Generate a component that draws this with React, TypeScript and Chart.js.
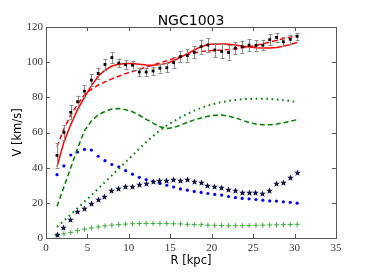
import React, { useEffect, useRef } from "react";
import { Chart, registerables } from "chart.js";

Chart.register(...registerables);

// Radii of the sampled points (kpc)
const radii = [1.33, 2.16, 2.99, 3.81, 4.64, 5.47, 6.30, 7.12, 7.95, 8.78, 9.61, 10.44, 11.26, 12.09, 12.92, 13.75, 14.58, 15.40, 16.23, 17.06, 17.89, 18.72, 19.54, 20.37, 21.20, 22.03, 22.86, 23.68, 24.51, 25.34, 26.17, 27.00, 27.82, 28.65, 29.48, 30.31];

// Observed rotation velocities and errors
const vObs = [47, 60, 71.5, 77.5, 83.5, 89.8, 93.6, 98.7, 102.6, 99.5, 98.5, 98.3, 94.4, 94.4, 95, 96.6, 96.8, 99.7, 103.2, 103.8, 105.7, 108.8, 109.8, 106.9, 106.1, 105.5, 108, 108.8, 109.7, 109.5, 109.7, 112.8, 114.1, 111.6, 113, 114.7];
const vErr = [7, 4, 4, 3.5, 3.5, 3.5, 3, 3, 3, 2.5, 2.5, 2.5, 2.5, 2.5, 2.5, 2.5, 2.5, 3, 3, 3.5, 3.5, 4, 4, 4, 4, 4, 3.5, 3.5, 3.5, 3, 3, 3, 2.5, 2.5, 2.5, 2];

// Model curves
const vModelSolid = [40.5, 54.5, 64.5, 73, 80, 86.5, 92, 95.5, 97.8, 98.8, 99.2, 99.2, 98.8, 98.4, 98.3, 98.6, 99.3, 100.8, 102.7, 104.8, 106.9, 108.8, 110, 110.4, 110.4, 110.2, 109.7, 109.1, 108.6, 108.2, 108, 108, 108.3, 109, 110, 111.2];
const vModelDashed = [52, 62, 70, 76, 81.5, 84.5, 87, 88.8, 90.5, 92, 93.5, 94.7, 96, 97.2, 98.4, 99.6, 100.8, 102, 103.2, 104.3, 105.2, 106, 106.5, 106.7, 106.9, 107.2, 107.6, 108.2, 108.8, 109.5, 110.4, 111.4, 112.4, 113.3, 114.2, 115.2];
const vGreenDashed = [18, 29, 40, 51, 61, 66.5, 70, 72, 73.3, 73.6, 73, 71.8, 69.8, 67.5, 65.3, 63.3, 62.3, 62.8, 64.2, 65.8, 67.2, 68.3, 69.2, 69.8, 69.9, 69.3, 68.3, 67, 65.7, 64.8, 64.4, 64.4, 64.8, 65.5, 66.4, 67.3];
const vGreenDotted = [6.3, 9.8, 13.4, 17, 20.6, 24.3, 28, 31.8, 35.6, 39.4, 43.2, 47, 50.8, 54.5, 58, 61.2, 64, 66.4, 68.6, 70.6, 72.4, 74, 75.3, 76.4, 77.3, 78, 78.5, 78.9, 79.1, 79.2, 79.2, 79.1, 78.8, 78.4, 77.9, 77.3];

// Component points
const vBlue = [36, 41, 47.2, 48.9, 50.4, 50, 46.5, 44, 41.8, 40.5, 38.3, 36.3, 34.5, 33.2, 32.2, 31, 30, 29, 27.9, 27.2, 26.5, 25.9, 25.3, 24.8, 24.4, 23.6, 23, 22.5, 22.3, 21.9, 21.5, 21.1, 21, 20.6, 20.3, 19.8];
const vStars = [1.9, 5.9, 10.7, 14.9, 17, 19.4, 21.7, 23.6, 27, 28.4, 29.1, 29.1, 30.5, 31.2, 32, 32.6, 32.8, 33, 32.8, 33.5, 32.4, 31.6, 30.1, 29.3, 29, 27.8, 26.9, 25.7, 26.1, 25.9, 25.3, 26.9, 30.9, 31.6, 34.5, 37.5];
const vPlus = [1.5, 2.3, 3.2, 4.2, 5, 5.7, 6.3, 6.9, 7.3, 7.6, 7.9, 8.1, 8.2, 8.3, 8.3, 8.3, 8.2, 8.1, 8.0, 7.8, 7.6, 7.5, 7.3, 7.2, 7.1, 7.0, 7.0, 7.0, 7.1, 7.2, 7.3, 7.4, 7.5, 7.6, 7.7, 7.8];

const xTicks = [0, 5, 10, 15, 20, 25, 30, 35];
const yTicks = [0, 20, 40, 60, 80, 100, 120];

const titleText = "NGC1003";
const xLabel = "R [kpc]";
const yLabel = "V [km/s]";

const pts = (vals: number[]) => radii.map((r, i) => ({ x: r, y: vals[i] }));

export default function App() {
  const ref = useRef<HTMLCanvasElement>(null);

  useEffect(() => {
    const star = document.createElement("canvas");
    star.width = 7;
    star.height = 7;
    const sc = star.getContext("2d")!;
    sc.beginPath();
    for (let k = 0; k < 10; k++) {
      const rr = k % 2 === 0 ? 3.5 : 1.5;
      const a = -Math.PI / 2 + (k * Math.PI) / 5;
      sc.lineTo(3.5 + rr * Math.cos(a), 3.9 + rr * Math.sin(a));
    }
    sc.closePath();
    sc.fillStyle = "#14144a";
    sc.fill();

    const decor = {
      id: "decor",
      beforeDatasetsDraw(chart: any) {
        chart.ctx.imageSmoothingEnabled = false;
      },
      beforeDatasetDraw(chart: any, args: any) {
        if (args.index !== 0) return;
        const { ctx, scales } = chart;
        const x = scales.x, y = scales.y;
        ctx.save();
        ctx.strokeStyle = "#8a8a8a";
        ctx.lineWidth = 1;
        ctx.beginPath();
        radii.forEach((r, i) => {
          const px = Math.round(x.getPixelForValue(r)) + 0.5;
          const top = y.getPixelForValue(vObs[i] + vErr[i]);
          const bot = y.getPixelForValue(vObs[i] - vErr[i]);
          ctx.moveTo(px, top);
          ctx.lineTo(px, bot);
          ctx.moveTo(px - 2, Math.round(top) + 0.5);
          ctx.lineTo(px + 2, Math.round(top) + 0.5);
          ctx.moveTo(px - 2, Math.round(bot) + 0.5);
          ctx.lineTo(px + 2, Math.round(bot) + 0.5);
        });
        ctx.stroke();
        ctx.restore();
      },
      afterDraw(chart: any) {
        const { ctx, chartArea, scales } = chart;
        const x = scales.x, y = scales.y;
        const { left, right, top, bottom } = chartArea;
        ctx.save();
        ctx.strokeStyle = "#555";
        ctx.lineWidth = 1;
        ctx.strokeRect(Math.round(left) + 0.5, Math.round(top) + 0.5, Math.round(right - left), Math.round(bottom - top));
        ctx.beginPath();
        const tl = 4;
        xTicks.forEach((t) => {
          const px = Math.round(x.getPixelForValue(t)) + 0.5;
          ctx.moveTo(px, bottom);
          ctx.lineTo(px, bottom - tl);
          ctx.moveTo(px, top);
          ctx.lineTo(px, top + tl);
        });
        yTicks.forEach((t) => {
          const py = Math.round(y.getPixelForValue(t)) + 0.5;
          ctx.moveTo(left, py);
          ctx.lineTo(left + tl, py);
          ctx.moveTo(right, py);
          ctx.lineTo(right - tl, py);
        });
        ctx.stroke();

        ctx.fillStyle = "#000";
        ctx.textAlign = "center";
        ctx.textBaseline = "alphabetic";
        ctx.font = "14px 'DejaVu Sans'";
        ctx.fillText(titleText, (left + right) / 2, 25);
        ctx.font = "11.5px 'DejaVu Sans'";
        ctx.fillText(xLabel, (left + right) / 2, 264);
        ctx.translate(20.5, (top + bottom) / 2);
        ctx.rotate(-Math.PI / 2);
        ctx.fillText(yLabel, 0, 0);
        ctx.restore();
      },
    };

    const tickFont = { family: "'Liberation Serif', serif", size: 11 };

    const chart = new Chart(ref.current!, {
      type: "scatter",
      data: {
        datasets: [
          {
            label: "data",
            data: pts(vObs),
            pointStyle: "rect",
            pointRadius: 2,
            pointBackgroundColor: "#000",
            pointBorderWidth: 0,
            showLine: false,
          },
          {
            label: "model",
            data: pts(vModelSolid),
            showLine: true,
            borderColor: "#ff0000",
            borderWidth: 1.5,
            pointRadius: 0,
          },
          {
            label: "model2",
            data: pts(vModelDashed),
            showLine: true,
            borderColor: "#ff0000",
            borderWidth: 1.5,
            borderDash: [5, 3],
            pointRadius: 0,
          },
          {
            label: "green dashed",
            data: pts(vGreenDashed),
            showLine: true,
            borderColor: "#008000",
            borderWidth: 1.5,
            borderDash: [5, 3],
            pointRadius: 0,
          },
          {
            label: "green dotted",
            data: pts(vGreenDotted),
            showLine: true,
            borderColor: "#008000",
            borderWidth: 2,
            borderDash: [1.6, 3.7],
            borderCapStyle: "butt",
            pointRadius: 0,
          },
          {
            label: "stars",
            data: pts(vStars),
            pointStyle: star as any,
            pointRadius: 3,
            showLine: false,
          },
          {
            label: "blue",
            data: pts(vBlue),
            pointStyle: "circle",
            pointRadius: 1.6,
            pointBackgroundColor: "#0000ff",
            pointBorderWidth: 0,
            showLine: false,
          },
          {
            label: "plus",
            data: pts(vPlus),
            pointStyle: "cross",
            pointRadius: 2.6,
            pointBorderColor: "#3cac3c",
            pointBorderWidth: 1,
            showLine: false,
          },
        ],
      },
      options: {
        responsive: false,
        animation: false,
        devicePixelRatio: 1,
        layout: { padding: { top: 27, right: 38, left: 0, bottom: 0 } },
        plugins: { legend: { display: false }, tooltip: { enabled: false }, title: { display: false } },
        scales: {
          x: {
            type: "linear",
            min: 0,
            max: 35,
            grid: { display: false, drawTicks: false },
            border: { display: false },
            ticks: { stepSize: 5, font: tickFont, color: "#333", padding: 4, maxRotation: 0 },
            afterFit: (s: any) => {
              s.height = 42;
            },
          },
          y: {
            type: "linear",
            min: 0,
            max: 120,
            grid: { display: false, drawTicks: false },
            border: { display: false },
            ticks: { stepSize: 20, font: tickFont, color: "#333", padding: 3 },
            afterFit: (s: any) => {
              s.width = 46;
            },
          },
        },
      },
      plugins: [decor],
    } as any);
    return () => chart.destroy();
  }, []);

  return (
    <div style={{ position: "absolute", left: 0, top: 0, width: 374, height: 280 }}>
      <canvas ref={ref} width={374} height={280} style={{ display: "block", width: 374, height: 280 }} />
    </div>
  );
}
